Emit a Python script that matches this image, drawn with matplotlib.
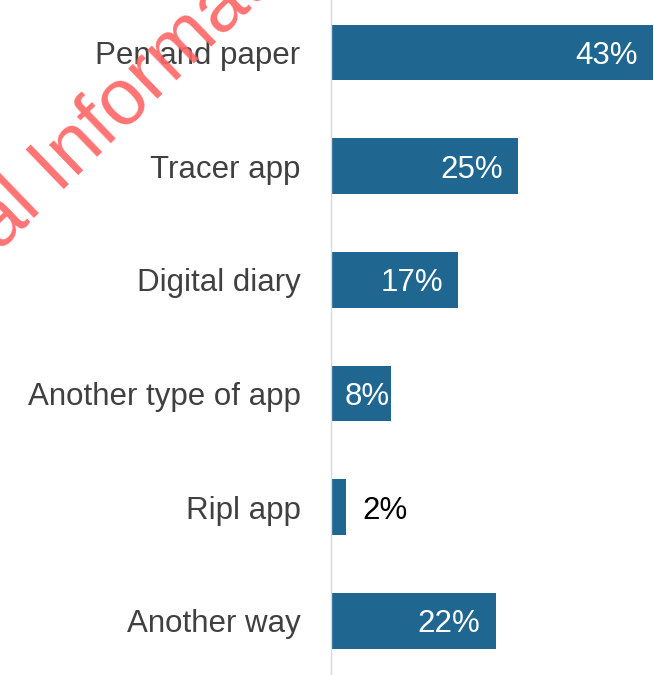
import matplotlib.pyplot as plt

categories = ['Pen and paper', 'Tracer app', 'Digital diary',
              'Another type of app', 'Ripl app', 'Another way']
values = [43, 25, 17, 8, 2, 22]
value_labels = ['43%', '25%', '17%', '8%', '2%', '22%']

bar_color = '#1f6690'
text_color = '#404040'

plt.rcParams['font.family'] = ['Liberation Sans', 'DejaVu Sans']

fig = plt.figure(figsize=(6.54, 6.75), dpi=100)
ax = fig.add_axes([331 / 654, 0, 1 - 331 / 654, 1])

pos = list(range(len(categories)))
ax.barh(pos, values, height=0.49, color=bar_color)
ax.set_xlim(0, 43.1)
ax.set_ylim(5.475, -0.461)

for p, v, lab in zip(pos, values, value_labels):
    if v < 5:
        # too narrow, label sits outside the bar
        ax.annotate(lab, (v, p), xytext=(12, 0), textcoords='offset points',
                    ha='left', va='center_baseline', fontsize=22.5,
                    color='black', annotation_clip=False)
    elif v < 10:
        ax.annotate(lab, (v, p), xytext=(-1, 0), textcoords='offset points',
                    ha='right', va='center_baseline', fontsize=22.5,
                    color='white', annotation_clip=False)
    else:
        ax.annotate(lab, (v, p), xytext=(-11, 0), textcoords='offset points',
                    ha='right', va='center_baseline', fontsize=22.5,
                    color='white', annotation_clip=False)

ax.set_yticks(pos)
ax.set_yticklabels(categories, fontsize=22.5, color=text_color)
ax.tick_params(axis='y', length=0, pad=22)
ax.set_xticks([])
for side in ['top', 'right', 'bottom']:
    ax.spines[side].set_visible(False)
ax.spines['left'].set_color('#d9d9d9')
ax.spines['left'].set_linewidth(1)

# red watermark running across the top-left corner
fig.text(-0.199, 0.443, 'Official Information', rotation=44, fontsize=57,
         color='#ff6464', alpha=0.9, ha='left', va='baseline',
         rotation_mode='anchor', zorder=10)

fig.savefig('out.png', dpi=100)
